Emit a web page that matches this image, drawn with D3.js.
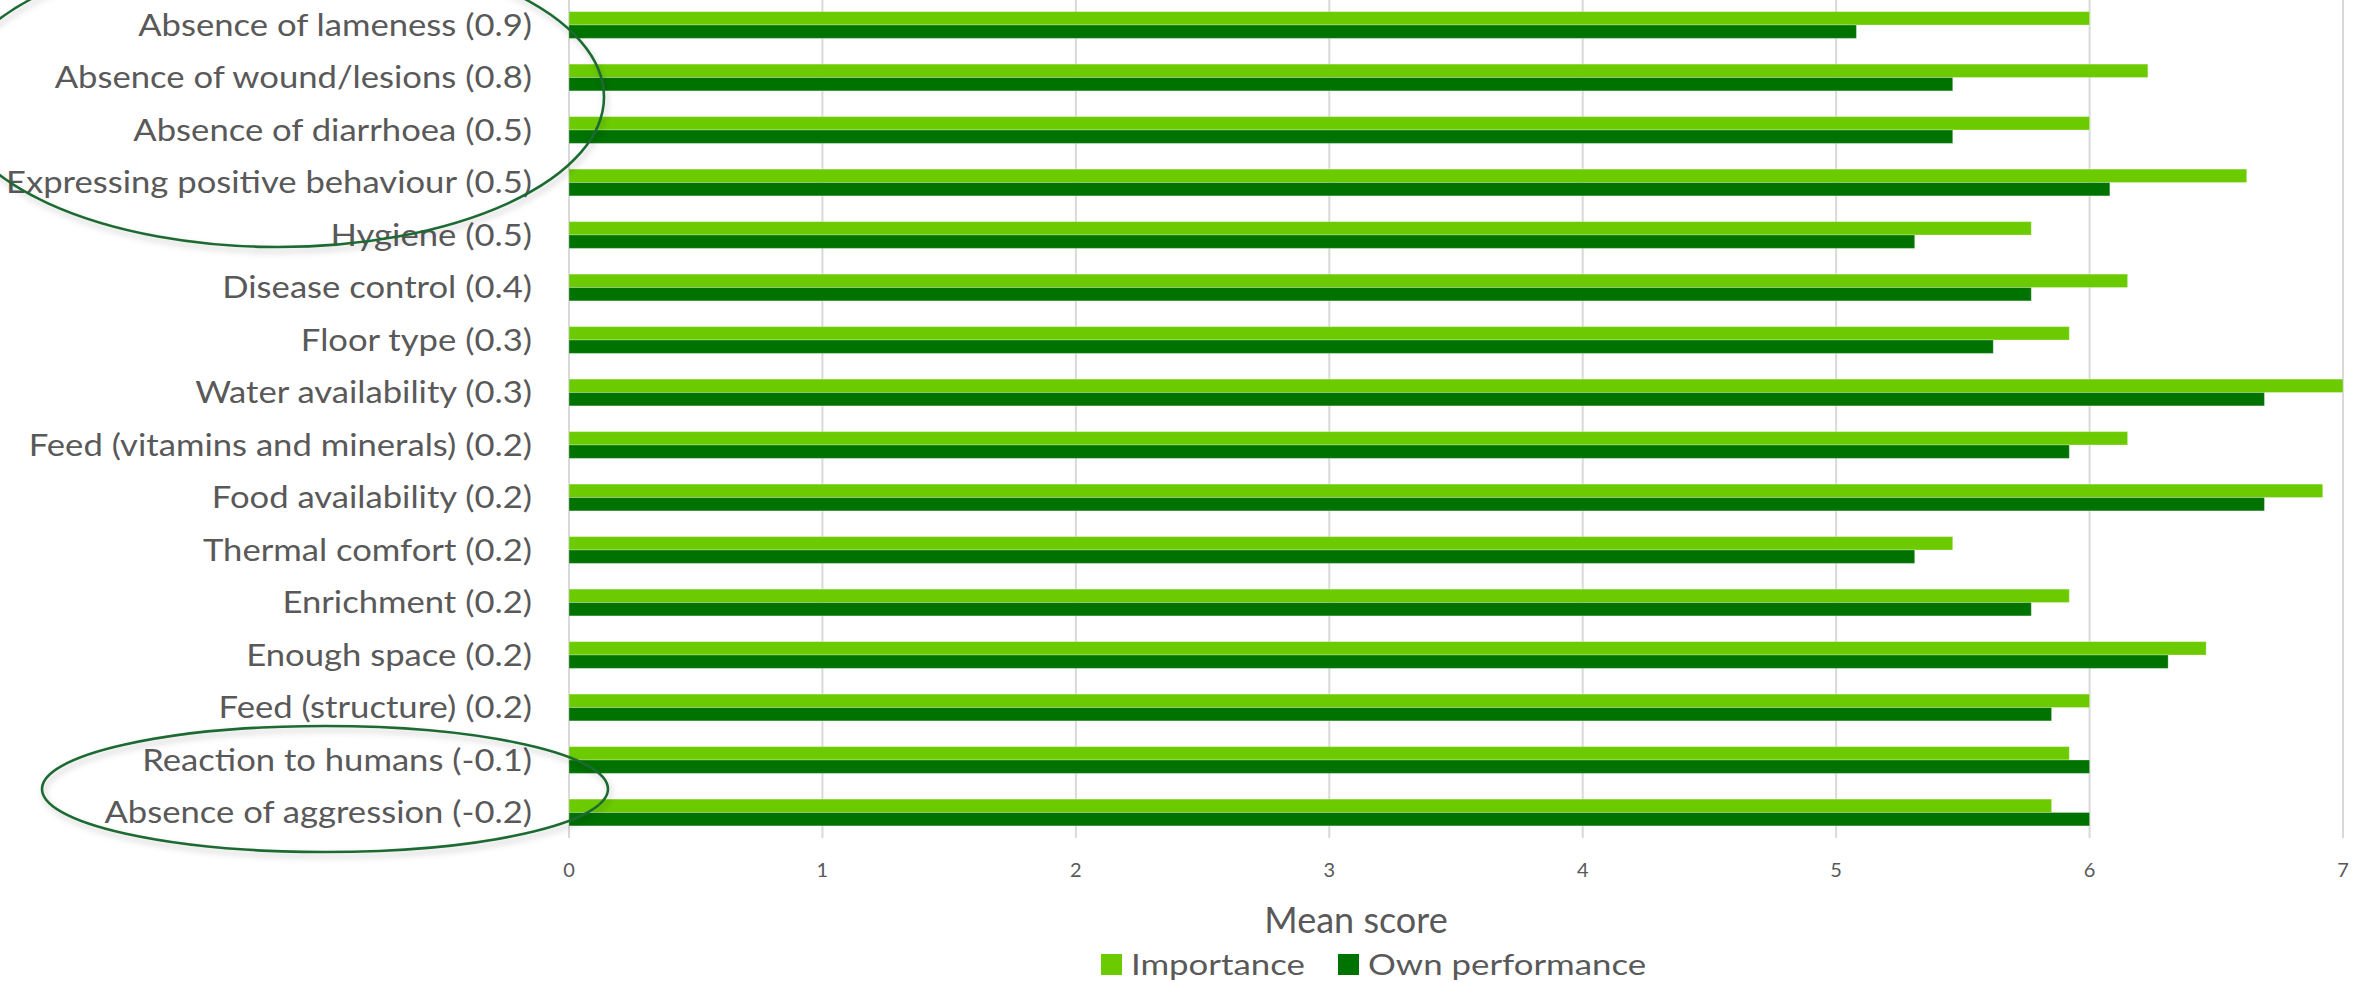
<!DOCTYPE html>
<html>
<head>
<meta charset="utf-8">
<script src="https://cdn.jsdelivr.net/npm/d3@7"></script>
<style>
  html, body { margin: 0; padding: 0; background: #fff; }
  svg { display: block; }
  text { font-family: Lato, "Open Sans", sans-serif; fill: #595959; }
</style>
</head>
<body>
<svg id="chart" width="2364" height="983"></svg>
<script>
const categories = [
  "Absence of lameness (0.9)",
  "Absence of wound/lesions (0.8)",
  "Absence of diarrhoea (0.5)",
  "Expressing positive behaviour (0.5)",
  "Hygiene (0.5)",
  "Disease control (0.4)",
  "Floor type (0.3)",
  "Water availability (0.3)",
  "Feed (vitamins and minerals) (0.2)",
  "Food availability (0.2)",
  "Thermal comfort (0.2)",
  "Enrichment (0.2)",
  "Enough space (0.2)",
  "Feed (structure) (0.2)",
  "Reaction to humans (-0.1)",
  "Absence of aggression (-0.2)"
];
const importance = [6.00, 6.23, 6.00, 6.62, 5.77, 6.15, 5.92, 7.00, 6.15, 6.92, 5.46, 5.92, 6.46, 6.00, 5.92, 5.85];
const ownPerformance = [5.08, 5.46, 5.46, 6.08, 5.31, 5.77, 5.62, 6.69, 5.92, 6.69, 5.31, 5.77, 6.31, 5.85, 6.00, 6.00];
const seriesNames = ["Importance", "Own performance"];
const seriesColors = ["#6ccb00", "#007200"];
const tickValues = [0, 1, 2, 3, 4, 5, 6, 7];
const axisTitle = "Mean score";

const svg = d3.select("#chart");

const x = d3.scaleLinear().domain([0, 7]).range([569, 2343]);
const y = d3.scaleBand().domain(categories).range([-1.25, 838.75]).paddingInner(0.49).paddingOuter(0.245);
const ySub = d3.scaleBand().domain(seriesNames).range([0, y.bandwidth()]);

const defs = svg.append("defs");
const f = defs.append("filter").attr("id", "shadow").attr("x", "-20%").attr("y", "-20%").attr("width", "140%").attr("height", "140%");
f.append("feDropShadow").attr("dx", 2).attr("dy", 4).attr("stdDeviation", 3).attr("flood-color", "#000").attr("flood-opacity", 0.22);

// gridlines
const plotTop = 0, plotBottom = 838;
svg.append("g").selectAll("line").data(tickValues).join("line")
  .attr("x1", d => x(d)).attr("x2", d => x(d))
  .attr("y1", plotTop).attr("y2", plotBottom)
  .attr("stroke", "#d9d9d9").attr("stroke-width", 2);

// bars
const rows = categories.map((c, i) => ({ cat: c, vals: [importance[i], ownPerformance[i]] }));
const g = svg.append("g").selectAll("g").data(rows).join("g")
  .attr("transform", d => `translate(0,${y(d.cat)})`);
g.selectAll("rect").data(d => d.vals.map((v, j) => ({ v, s: seriesNames[j], c: seriesColors[j] }))).join("rect")
  .attr("x", x(0))
  .attr("y", d => ySub(d.s))
  .attr("width", d => x(d.v) - x(0))
  .attr("height", ySub.bandwidth())
  .attr("fill", d => d.c)
  .attr("stroke", "rgba(255,255,255,0.28)")
  .attr("stroke-width", 1);

// category labels
const labelStretch = 1.155;
svg.append("g").selectAll("text").data(categories).join("text")
  .attr("transform", d => `translate(532,${y(d) + y.bandwidth() / 2}) scale(${labelStretch},1)`)
  .attr("text-anchor", "end")
  .attr("dy", "0.35em")
  .style("font-size", "30px")
  .text(d => d);

// tick labels
svg.append("g").selectAll("text").data(tickValues).join("text")
  .attr("x", d => x(d)).attr("y", 877)
  .attr("text-anchor", "middle")
  .style("font-size", "20px")
  .text(d => d);

// axis title
svg.append("text").attr("x", 1356).attr("y", 933)
  .attr("text-anchor", "middle").style("font-size", "36px").text(axisTitle);

// legend
const legendX = [1101, 1338];
const lg = svg.append("g").selectAll("g").data(seriesNames).join("g")
  .attr("transform", (d, i) => `translate(${legendX[i]},954)`);
lg.append("rect").attr("width", 21).attr("height", 21).attr("fill", (d, i) => seriesColors[i]);
lg.append("text").attr("transform", `translate(30,21) scale(1.18,1)`)
  .style("font-size", "29.5px").text(d => d);

// highlight ellipses
svg.append("ellipse").attr("cx", 278).attr("cy", 97).attr("rx", 326).attr("ry", 150)
  .attr("fill", "none").attr("stroke", "#1d6b33").attr("stroke-width", 2.6).attr("filter", "url(#shadow)");
svg.append("ellipse").attr("cx", 325).attr("cy", 789).attr("rx", 283).attr("ry", 63)
  .attr("fill", "none").attr("stroke", "#1d6b33").attr("stroke-width", 2.6).attr("filter", "url(#shadow)");
</script>
</body>
</html>
